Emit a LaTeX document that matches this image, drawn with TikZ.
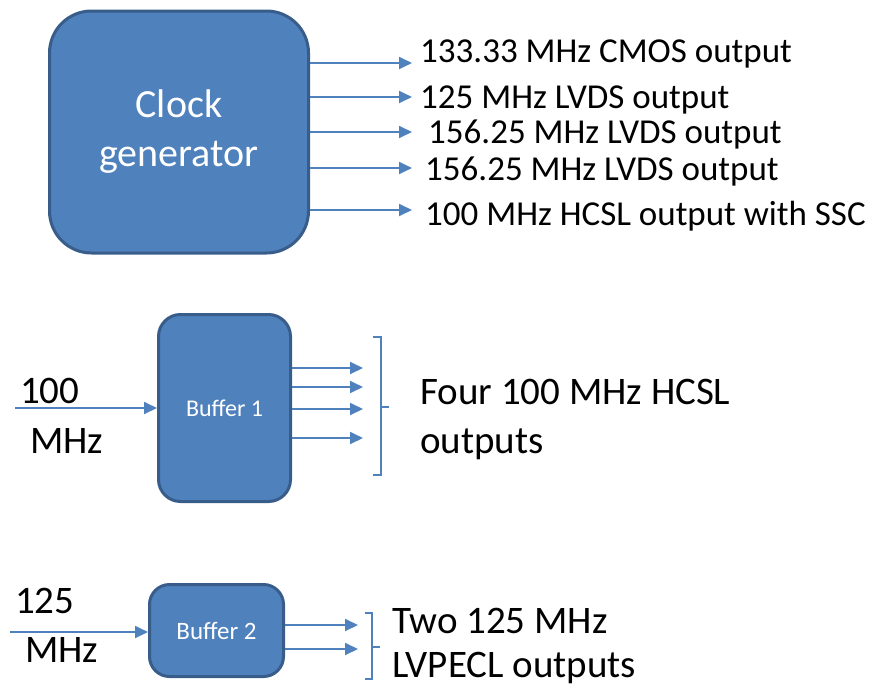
\documentclass[tikz,border=0pt]{standalone}
\usepackage{fontspec}
\setmainfont{Carlito}
\usetikzlibrary{arrows.meta}
\definecolor{boxblue}{RGB}{79,129,189}
\definecolor{boxedge}{RGB}{56,93,138}
\tikzset{
  blk/.style={draw=boxedge,fill=boxblue,line width=3pt,text=white,align=center},
  arr/.style={-{Triangle[length=13pt,width=12pt]},draw=boxblue,line width=1.8pt},
  brk/.style={draw=boxblue,line width=1.4pt},
  lbl/.style={anchor=base west,inner sep=0pt,font=\fontsize{35}{40}\selectfont},
  big/.style={anchor=base west,inner sep=0pt,font=\fontsize{39}{46}\selectfont}
}

\begin{document}
\begin{tikzpicture}[x=1pt,y=-1pt]
\useasboundingbox (0,0) rectangle (872,688);

% clock generator and its outputs
\node[blk,rounded corners=42pt,minimum width=259pt,minimum height=242pt,font=\fontsize{40}{49}\selectfont] (clk) at (179,132) {Clock\\generator};

\node[lbl] (o1) at (420,62) {133.33 MHz CMOS output};
\node[lbl] (o2) at (420,108) {125 MHz LVDS output};
\node[lbl] (o3) at (428,143) {156.25 MHz LVDS output};
\node[lbl] (o4) at (425,180) {156.25 MHz LVDS output};
\node[lbl] (o5) at (425,225) {100 MHz HCSL output with SSC};

\coordinate (t1) at (412,63);
\coordinate (t2) at (412,97);
\coordinate (t3) at (412,132);
\coordinate (t4) at (412,168);
\coordinate (t5) at (412,210);
\draw[arr] (clk.east |- t1) -- (t1);
\draw[arr] (clk.east |- t2) -- (t2);
\draw[arr] (clk.east |- t3) -- (t3);
\draw[arr] (clk.east |- t4) -- (t4);
\draw[arr] (clk.east |- t5) -- (t5);

% buffer 1
\node[blk,rounded corners=22pt,minimum width=132pt,minimum height=187pt,font=\fontsize{24}{28}\selectfont] (buf1) at (224.5,408) {Buffer 1};
\coordinate (in1) at (15,408);
\draw[arr] (in1) -- (in1 -| buf1.west);
\node[big] (f1a) at (20,403) {100};
\node[big] (f1b) at (30,453) {MHz};

\coordinate (e1) at (363,0);
\foreach \y in {368,387,409,438}
  \draw[arr] (buf1.east |- 0,\y) -- (e1 |- 0,\y);
\draw[brk] (373,337) -- (381,337) -- (381,475) -- (373,475);
\draw[brk] (381,407) -- (389,407);
\node[big] (g1a) at (420,404) {Four 100 MHz HCSL};
\node[big] (g1b) at (420,453) {outputs};

% buffer 2
\node[blk,rounded corners=20pt,minimum width=134pt,minimum height=92pt,font=\fontsize{25}{28}\selectfont] (buf2) at (216.5,630.5) {Buffer 2};
\coordinate (in2) at (10,632);
\draw[arr] (in2) -- (in2 -| buf2.west);
\node[big] (f2a) at (15,613) {125};
\node[big] (f2b) at (25,662) {MHz};

\coordinate (e2) at (358,0);
\foreach \y in {625,649}
  \draw[arr] (buf2.east |- 0,\y) -- (e2 |- 0,\y);
\draw[brk] (365,613) -- (372,613) -- (372,679) -- (365,679);
\draw[brk] (372,647) -- (380,647);
\node[big] (g2a) at (392,633) {Two 125 MHz};
\node[big] (g2b) at (392,677) {LVPECL outputs};

\end{tikzpicture}
\end{document}
